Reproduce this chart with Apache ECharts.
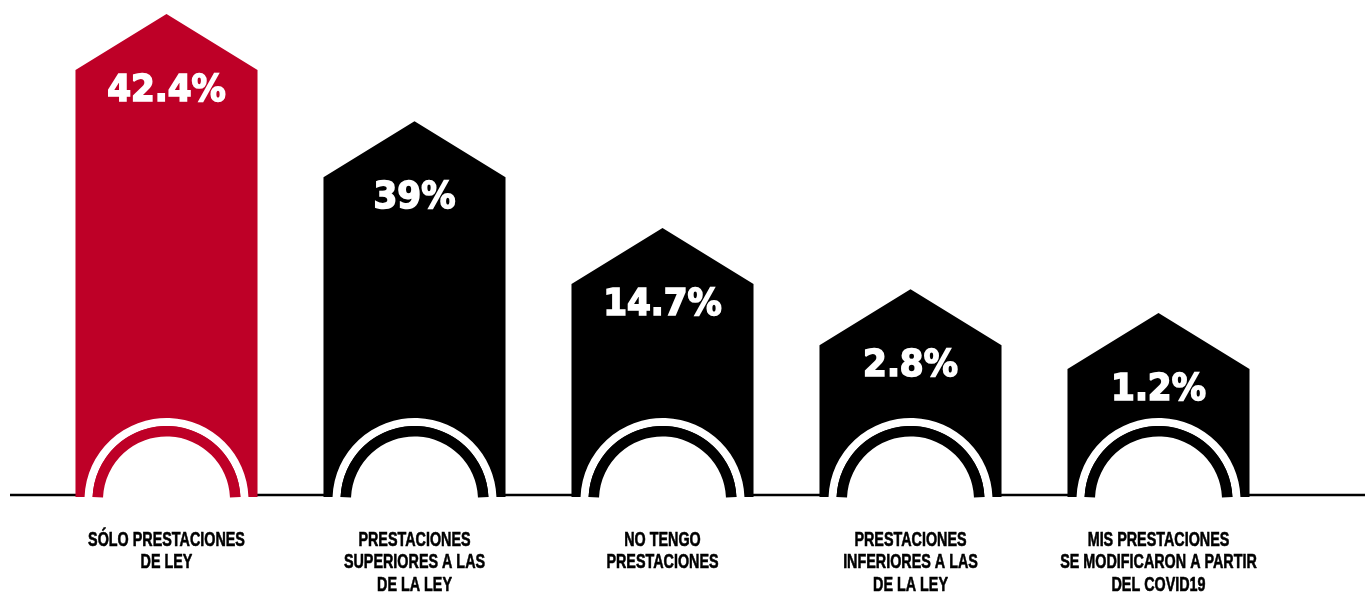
<!DOCTYPE html>
<html>
<head>
<meta charset="utf-8">
<script src="https://cdn.jsdelivr.net/npm/echarts@6/dist/echarts.min.js"></script>
<style>
  html, body { margin: 0; padding: 0; background: #ffffff; }
  #chart { width: 1370px; height: 596px; }
</style>
</head>
<body>
<div id="chart"></div>
<script>
// Survey answers: which benefits do employees receive
const categories = [
  'SÓLO PRESTACIONES\nDE LEY',
  'PRESTACIONES\nSUPERIORES A LAS\nDE LA LEY',
  'NO TENGO\nPRESTACIONES',
  'PRESTACIONES\nINFERIORES A LAS\nDE LA LEY',
  'MIS PRESTACIONES\nSE MODIFICARON A PARTIR\nDEL COVID19'
];
// share of respondents, in percent
const shares = [42.4, 39, 14.7, 2.8, 1.2];
// ordinal height of each house (roof apex on a 0–100 scale)
const houseLevels = [100, 77.8, 55.7, 43.0, 38.1];

const RED = '#BE0027';
const BLACK = '#000000';

const chart = echarts.init(document.getElementById('chart'));

function renderHouse(params, api) {
  const i = params.dataIndex;
  const base = api.coord([api.value(0), 0]);
  const top = api.coord([api.value(0), api.value(1)]);
  const cx = base[0];
  const bottom = base[1];
  const apex = top[1];
  const bandW = api.size([1, 0])[0];
  const halfW = bandW * 0.367;
  const roof = 56;
  const shoulder = apex + roof;
  const color = i === 0 ? RED : BLACK;

  // doorway arch: centre sits slightly below the floor line
  const acy = bottom + 3;
  const cut = r => Math.asin(3 / r);
  const arc = (r0, r, fill) => ({
    type: 'sector',
    shape: {
      cx: cx, cy: acy, r0: r0, r: r,
      startAngle: Math.PI + cut(r),
      endAngle: 2 * Math.PI - cut(r),
      clockwise: true
    },
    style: { fill: fill }
  });

  return {
    type: 'group',
    children: [
      {
        type: 'polygon',
        shape: {
          points: [
            [cx - halfW, bottom],
            [cx - halfW, shoulder],
            [cx, apex],
            [cx + halfW, shoulder],
            [cx + halfW, bottom]
          ]
        },
        style: { fill: color }
      },
      arc(74, 82, '#ffffff'),
      arc(63.5, 74, color),
      arc(0, 63.5, '#ffffff'),
      {
        type: 'text',
        x: cx,
        y: shoulder + 21,
        style: {
          text: api.value(2) + '%',
          fill: '#ffffff',
          fontSize: 38,
          fontWeight: 'bold',
          fontFamily: '"DejaVu Sans Condensed", "DejaVu Sans", sans-serif',
          align: 'center',
          verticalAlign: 'middle',
          stroke: '#ffffff',
          lineWidth: 1.6
        }
      },
      {
        type: 'text',
        x: cx,
        y: bottom + 32,
        scaleX: 0.7,
        style: {
          text: categories[i],
          fill: '#000000',
          fontSize: 20.5,
          lineHeight: 22.5,
          fontWeight: 'bold',
          fontFamily: '"Liberation Sans", Arial, sans-serif',
          align: 'center',
          verticalAlign: 'top',
          stroke: '#000000',
          lineWidth: 0.6
        }
      }
    ]
  };
}

chart.setOption({
  animation: false,
  backgroundColor: '#ffffff',
  grid: { left: 42.5, right: 87.5, top: 14, bottom: 99 },
  xAxis: {
    type: 'category',
    data: categories,
    show: false
  },
  yAxis: {
    type: 'value',
    min: 0,
    max: 100,
    show: false
  },
  graphic: [
    {
      type: 'line',
      z: 0,
      shape: { x1: 10, y1: 495, x2: 1365, y2: 495 },
      style: { stroke: '#000000', lineWidth: 2.5 }
    }
  ],
  series: [
    {
      type: 'custom',
      z: 5,
      renderItem: renderHouse,
      encode: { x: 0, y: 1 },
      data: shares.map((v, i) => [i, houseLevels[i], v])
    }
  ]
});
</script>
</body>
</html>
